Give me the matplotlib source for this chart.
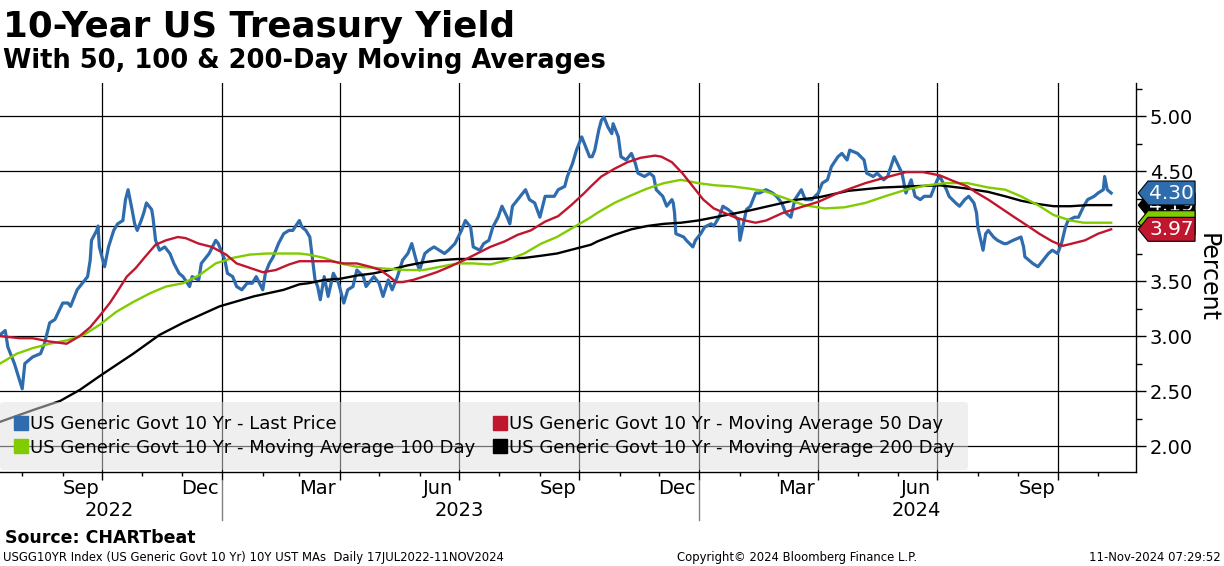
import matplotlib
matplotlib.use("Agg")
import matplotlib.pyplot as plt
import matplotlib.dates as mdates
from matplotlib.patches import Polygon
from matplotlib.lines import Line2D
from matplotlib.ticker import MultipleLocator, FormatStrFormatter, NullFormatter
import pandas as pd

# ---------------- data ----------------
price_dates = [
    "2022-07-15", "2022-07-19", "2022-07-21", "2022-07-26", "2022-08-01", "2022-08-03", "2022-08-09",
    "2022-08-15", "2022-08-18", "2022-08-22", "2022-08-26", "2022-09-01", "2022-09-05", "2022-09-07",
    "2022-09-12", "2022-09-16", "2022-09-20", "2022-09-22", "2022-09-23", "2022-09-27", "2022-09-28",
    "2022-09-29", "2022-10-03", "2022-10-06", "2022-10-10", "2022-10-13", "2022-10-17", "2022-10-19",
    "2022-10-21", "2022-10-24", "2022-10-26", "2022-10-28", "2022-10-31", "2022-11-02", "2022-11-04",
    "2022-11-08", "2022-11-09", "2022-11-11", "2022-11-14", "2022-11-18", "2022-11-22", "2022-11-25",
    "2022-11-29", "2022-12-02", "2022-12-07", "2022-12-09", "2022-12-14", "2022-12-16", "2022-12-22",
    "2022-12-27", "2022-12-29", "2023-01-03", "2023-01-05", "2023-01-09", "2023-01-12", "2023-01-16",
    "2023-01-20", "2023-01-24", "2023-01-27", "2023-02-01", "2023-02-03", "2023-02-06", "2023-02-09",
    "2023-02-13", "2023-02-17", "2023-02-21", "2023-02-24", "2023-03-01", "2023-03-03", "2023-03-06",
    "2023-03-09", "2023-03-13", "2023-03-15", "2023-03-17", "2023-03-20", "2023-03-23", "2023-03-27",
    "2023-03-31", "2023-04-04", "2023-04-07", "2023-04-11", "2023-04-14", "2023-04-19", "2023-04-21",
    "2023-04-27", "2023-05-01", "2023-05-04", "2023-05-08", "2023-05-11", "2023-05-15", "2023-05-19",
    "2023-05-23", "2023-05-26", "2023-05-30", "2023-06-01", "2023-06-05", "2023-06-08", "2023-06-12",
    "2023-06-16", "2023-06-20", "2023-06-23", "2023-06-28", "2023-07-03", "2023-07-06", "2023-07-10",
    "2023-07-12", "2023-07-17", "2023-07-20", "2023-07-24", "2023-07-27", "2023-07-31", "2023-08-03",
    "2023-08-07", "2023-08-09", "2023-08-11", "2023-08-15", "2023-08-21", "2023-08-24", "2023-08-28",
    "2023-09-01", "2023-09-05", "2023-09-08", "2023-09-12", "2023-09-15", "2023-09-20", "2023-09-22",
    "2023-09-26", "2023-09-29", "2023-10-03", "2023-10-05", "2023-10-09", "2023-10-11", "2023-10-13",
    "2023-10-16", "2023-10-18", "2023-10-20", "2023-10-23", "2023-10-26", "2023-10-27", "2023-10-31",
    "2023-11-02", "2023-11-06", "2023-11-10", "2023-11-13", "2023-11-15", "2023-11-20", "2023-11-24",
    "2023-11-27", "2023-11-29", "2023-12-04", "2023-12-07", "2023-12-11", "2023-12-12", "2023-12-13",
    "2023-12-14", "2023-12-20", "2023-12-22", "2023-12-27", "2023-12-29", "2024-01-02", "2024-01-05",
    "2024-01-10", "2024-01-12", "2024-01-16", "2024-01-19", "2024-01-23", "2024-01-26", "2024-01-31",
    "2024-02-01", "2024-02-06", "2024-02-09", "2024-02-13", "2024-02-16", "2024-02-21", "2024-02-26",
    "2024-02-29", "2024-03-04", "2024-03-07", "2024-03-11", "2024-03-14", "2024-03-19", "2024-03-22",
    "2024-03-27", "2024-04-01", "2024-04-04", "2024-04-08", "2024-04-11", "2024-04-16", "2024-04-19",
    "2024-04-23", "2024-04-25", "2024-05-01", "2024-05-06", "2024-05-08", "2024-05-13", "2024-05-16",
    "2024-05-21", "2024-05-24", "2024-05-29", "2024-06-04", "2024-06-07", "2024-06-11", "2024-06-14",
    "2024-06-18", "2024-06-21", "2024-06-26", "2024-07-01", "2024-07-03", "2024-07-08", "2024-07-10",
    "2024-07-15", "2024-07-18", "2024-07-22", "2024-07-25", "2024-07-29", "2024-07-31", "2024-08-01",
    "2024-08-05", "2024-08-07", "2024-08-09", "2024-08-13", "2024-08-16", "2024-08-21", "2024-08-23",
    "2024-08-28", "2024-09-03", "2024-09-05", "2024-09-06", "2024-09-12", "2024-09-16", "2024-09-20",
    "2024-09-24", "2024-09-27", "2024-10-01", "2024-10-04", "2024-10-07", "2024-10-09", "2024-10-14",
    "2024-10-17", "2024-10-21", "2024-10-24", "2024-10-29", "2024-11-01", "2024-11-05", "2024-11-06",
    "2024-11-08", "2024-11-11",
]
price_vals = [
    3.01, 3.05, 2.90, 2.75, 2.52, 2.75, 2.81,
    2.84, 2.93, 3.12, 3.15, 3.30, 3.30, 3.27,
    3.42, 3.48, 3.54, 3.69, 3.87, 3.96, 4.00,
    3.81, 3.63, 3.81, 3.96, 4.02, 4.05, 4.24,
    4.33, 4.15, 4.02, 3.96, 4.05, 4.12, 4.21,
    4.15, 4.08, 3.87, 3.78, 3.81, 3.75, 3.66,
    3.57, 3.54, 3.45, 3.54, 3.51, 3.66, 3.75,
    3.87, 3.84, 3.69, 3.57, 3.54, 3.45, 3.42,
    3.48, 3.48, 3.54, 3.42, 3.57, 3.66, 3.72,
    3.84, 3.93, 3.96, 3.96, 4.05, 3.99, 3.96,
    3.90, 3.51, 3.45, 3.33, 3.54, 3.36, 3.57,
    3.48, 3.30, 3.42, 3.45, 3.60, 3.54, 3.45,
    3.54, 3.48, 3.36, 3.51, 3.42, 3.54, 3.69,
    3.75, 3.84, 3.66, 3.60, 3.75, 3.78, 3.81,
    3.78, 3.75, 3.78, 3.84, 3.96, 4.05, 3.99,
    3.81, 3.78, 3.84, 3.87, 3.99, 4.08, 4.18,
    4.08, 4.02, 4.18, 4.24, 4.33, 4.24, 4.21,
    4.08, 4.27, 4.27, 4.27, 4.33, 4.36, 4.45,
    4.57, 4.69, 4.81, 4.75, 4.63, 4.63, 4.69,
    4.87, 4.96, 4.99, 4.90, 4.84, 4.93, 4.81,
    4.63, 4.60, 4.66, 4.57, 4.48, 4.45, 4.48,
    4.45, 4.33, 4.27, 4.18, 4.24, 4.21, 4.12,
    3.93, 3.90, 3.87, 3.81, 3.87, 3.93, 3.99,
    4.02, 4.00, 4.08, 4.18, 4.15, 4.12, 4.05,
    3.87, 4.15, 4.18, 4.30, 4.30, 4.33, 4.30,
    4.27, 4.21, 4.12, 4.08, 4.24, 4.33, 4.24,
    4.24, 4.30, 4.39, 4.42, 4.54, 4.63, 4.66,
    4.60, 4.69, 4.66, 4.60, 4.48, 4.45, 4.48,
    4.42, 4.45, 4.63, 4.48, 4.30, 4.42, 4.27,
    4.24, 4.27, 4.27, 4.42, 4.45, 4.33, 4.27,
    4.21, 4.18, 4.24, 4.27, 4.21, 4.12, 3.99,
    3.78, 3.93, 3.96, 3.90, 3.87, 3.84, 3.84,
    3.87, 3.90, 3.81, 3.72, 3.66, 3.63, 3.69,
    3.75, 3.78, 3.75, 3.84, 3.99, 4.05, 4.08,
    4.08, 4.18, 4.24, 4.27, 4.30, 4.33, 4.45,
    4.33, 4.30,
]

ma50_dates = [
    "2022-07-15", "2022-07-30", "2022-08-09", "2022-08-22", "2022-09-04", "2022-09-14", "2022-09-22",
    "2022-09-29", "2022-10-07", "2022-10-12", "2022-10-20", "2022-10-27", "2022-11-03", "2022-11-11",
    "2022-11-19", "2022-11-28", "2022-12-04", "2022-12-14", "2022-12-24", "2023-01-04", "2023-01-12",
    "2023-01-22", "2023-02-01", "2023-02-11", "2023-02-21", "2023-03-01", "2023-03-15", "2023-03-25",
    "2023-04-04", "2023-04-14", "2023-04-24", "2023-05-02", "2023-05-09", "2023-05-14", "2023-05-19",
    "2023-05-27", "2023-06-04", "2023-06-14", "2023-06-24", "2023-07-05", "2023-07-15", "2023-07-25",
    "2023-08-05", "2023-08-15", "2023-08-25", "2023-09-05", "2023-09-15", "2023-09-25", "2023-10-05",
    "2023-10-10", "2023-10-18", "2023-10-28", "2023-11-07", "2023-11-17", "2023-11-28", "2023-12-03",
    "2023-12-11", "2023-12-19", "2023-12-27", "2024-01-04", "2024-01-12", "2024-01-20", "2024-01-28",
    "2024-02-05", "2024-02-13", "2024-02-21", "2024-03-05", "2024-03-21", "2024-04-01", "2024-04-16",
    "2024-05-07", "2024-05-22", "2024-06-07", "2024-06-20", "2024-07-03", "2024-07-13", "2024-07-24",
    "2024-07-30", "2024-08-09", "2024-08-19", "2024-08-29", "2024-09-07", "2024-09-17", "2024-09-27",
    "2024-10-05", "2024-10-12", "2024-10-22", "2024-11-01", "2024-11-11",
]
ma50_vals = [
    3.00, 2.98, 2.98, 2.95, 2.93, 3.00, 3.08,
    3.18, 3.30, 3.39, 3.54, 3.62, 3.72, 3.83,
    3.87, 3.90, 3.89, 3.84, 3.81, 3.74, 3.66,
    3.62, 3.58, 3.60, 3.65, 3.68, 3.68, 3.68,
    3.66, 3.66, 3.63, 3.60, 3.54, 3.49, 3.49,
    3.51, 3.54, 3.58, 3.63, 3.69, 3.75, 3.81,
    3.86, 3.92, 3.96, 4.04, 4.09, 4.19, 4.30,
    4.36, 4.45, 4.52, 4.58, 4.62, 4.64, 4.63,
    4.58, 4.48, 4.36, 4.24, 4.16, 4.12, 4.08,
    4.05, 4.03, 4.05, 4.12, 4.18, 4.22, 4.30,
    4.39, 4.44, 4.49, 4.49, 4.46, 4.41, 4.36,
    4.31, 4.24, 4.16, 4.08, 4.01, 3.93, 3.86,
    3.82, 3.84, 3.87, 3.93, 3.97,
]

ma100_dates = [
    "2022-07-15", "2022-07-28", "2022-08-09", "2022-08-22", "2022-09-04", "2022-09-17", "2022-09-29",
    "2022-10-12", "2022-10-25", "2022-11-07", "2022-11-19", "2022-12-02", "2022-12-14", "2022-12-27",
    "2023-01-09", "2023-01-22", "2023-02-04", "2023-02-17", "2023-03-01", "2023-03-08", "2023-03-20",
    "2023-04-01", "2023-04-14", "2023-04-27", "2023-05-09", "2023-05-22", "2023-06-04", "2023-06-17",
    "2023-06-30", "2023-07-12", "2023-07-25", "2023-08-07", "2023-08-20", "2023-09-02", "2023-09-14",
    "2023-09-27", "2023-10-10", "2023-10-15", "2023-10-28", "2023-11-10", "2023-11-22", "2023-12-05",
    "2023-12-18", "2023-12-31", "2024-01-13", "2024-01-26", "2024-02-08", "2024-02-19", "2024-03-05",
    "2024-03-21", "2024-04-06", "2024-04-21", "2024-05-07", "2024-05-22", "2024-06-07", "2024-06-23",
    "2024-07-08", "2024-07-24", "2024-08-09", "2024-08-22", "2024-09-03", "2024-09-16", "2024-09-28",
    "2024-10-11", "2024-10-21", "2024-11-11",
]
ma100_vals = [
    2.75, 2.84, 2.89, 2.93, 2.96, 3.01, 3.10,
    3.22, 3.31, 3.39, 3.45, 3.48, 3.55, 3.66,
    3.71, 3.74, 3.75, 3.75, 3.75, 3.74, 3.71,
    3.66, 3.63, 3.62, 3.61, 3.60, 3.60, 3.63,
    3.66, 3.66, 3.65, 3.69, 3.75, 3.84, 3.90,
    3.99, 4.08, 4.12, 4.21, 4.28, 4.34, 4.39,
    4.42, 4.39, 4.37, 4.36, 4.34, 4.32, 4.26,
    4.19, 4.16, 4.17, 4.21, 4.27, 4.33, 4.37,
    4.39, 4.39, 4.35, 4.33, 4.27, 4.19, 4.10,
    4.05, 4.03, 4.03,
]

ma200_dates = [
    "2022-07-15", "2022-08-10", "2022-08-30", "2022-09-14", "2022-10-01", "2022-10-25", "2022-11-14",
    "2022-12-02", "2022-12-30", "2023-01-25", "2023-02-17", "2023-03-01", "2023-03-08", "2023-03-20",
    "2023-04-01", "2023-04-14", "2023-04-27", "2023-05-09", "2023-05-22", "2023-06-04", "2023-06-17",
    "2023-06-30", "2023-07-25", "2023-08-20", "2023-09-02", "2023-09-14", "2023-09-27", "2023-10-10",
    "2023-10-15", "2023-10-28", "2023-11-10", "2023-11-22", "2023-12-05", "2023-12-18", "2023-12-31",
    "2024-01-13", "2024-01-26", "2024-02-08", "2024-02-19", "2024-03-16", "2024-04-01", "2024-04-24",
    "2024-05-20", "2024-06-09", "2024-07-03", "2024-07-24", "2024-08-09", "2024-08-22", "2024-09-03",
    "2024-09-16", "2024-09-28", "2024-10-11", "2024-10-24", "2024-11-11",
]
ma200_vals = [
    2.22, 2.33, 2.41, 2.51, 2.65, 2.84, 3.01,
    3.12, 3.27, 3.36, 3.42, 3.47, 3.48, 3.51,
    3.52, 3.55, 3.57, 3.60, 3.64, 3.67, 3.69,
    3.70, 3.70, 3.71, 3.73, 3.75, 3.79, 3.83,
    3.86, 3.92, 3.97, 4.00, 4.02, 4.03, 4.05,
    4.08, 4.11, 4.14, 4.17, 4.24, 4.26, 4.32,
    4.35, 4.36, 4.37, 4.34, 4.31, 4.27, 4.23,
    4.20, 4.18, 4.18, 4.19, 4.19,
]

series_labels = [
    "US Generic Govt 10 Yr - Last Price",
    "US Generic Govt 10 Yr - Moving Average 50 Day",
    "US Generic Govt 10 Yr - Moving Average 100 Day",
    "US Generic Govt 10 Yr - Moving Average 200 Day",
]

month_label_dates = ["2022-09-15", "2022-12-15", "2023-03-15", "2023-06-15", "2023-09-15",
                     "2023-12-15", "2024-03-15", "2024-06-15", "2024-09-15"]
month_labels = ["Sep", "Dec", "Mar", "Jun", "Sep", "Dec", "Mar", "Jun", "Sep"]
year_label_dates = ["2022-10-07", "2023-07-01", "2024-06-15"]
year_labels = ["2022", "2023", "2024"]
year_break_dates = ["2023-01-01", "2024-01-01"]

# ---------------- style ----------------
C_PRICE = "#2f6cad"
C_50 = "#c0162e"
C_100 = "#80cc00"
C_200 = "#000000"

fig = plt.figure(figsize=(12.24, 5.66), dpi=100)
W, H = 1224.0, 566.0
ax_left, ax_right, ax_top, ax_bot = 0.0, 1136.0, 83.0, 472.0
ax = fig.add_axes([ax_left / W, 1 - ax_bot / H, (ax_right - ax_left) / W, (ax_bot - ax_top) / H])

pd_price = pd.to_datetime(price_dates)
ax.plot(pd.to_datetime(ma200_dates), ma200_vals, color=C_200, lw=1.7, zorder=3)
ax.plot(pd.to_datetime(ma100_dates), ma100_vals, color=C_100, lw=1.7, zorder=3)
ax.plot(pd.to_datetime(ma50_dates), ma50_vals, color=C_50, lw=1.7, zorder=3)
ax.plot(pd_price, price_vals, color=C_PRICE, lw=2.3, zorder=2)

ax.set_xlim(pd.Timestamp("2022-07-15"), pd.Timestamp("2024-11-30"))
ax.set_ylim(1.764, 5.30)

# grid and ticks
ax.set_axisbelow(True)
ax.xaxis.set_major_locator(mdates.MonthLocator(bymonth=[1, 4, 7, 10]))
ax.xaxis.set_minor_locator(mdates.MonthLocator())
ax.xaxis.set_major_formatter(NullFormatter())
ax.xaxis.set_minor_formatter(NullFormatter())
ax.yaxis.set_major_locator(MultipleLocator(0.5))
ax.yaxis.set_minor_locator(MultipleLocator(0.25))
ax.yaxis.set_major_formatter(FormatStrFormatter("%.2f"))
ax.grid(which="major", color="black", lw=0.9)

for s in ["left", "top"]:
    ax.spines[s].set_visible(False)
for s in ["right", "bottom"]:
    ax.spines[s].set_color("black")
    ax.spines[s].set_linewidth(1.0)

ax.yaxis.tick_right()
ax.tick_params(axis="y", which="major", direction="out", length=7, width=1.0,
               labelsize=14, pad=3, colors="black")
ax.tick_params(axis="y", which="minor", direction="out", length=4, width=1.0)
ax.tick_params(axis="x", which="major", direction="out", length=6, width=1.0)
ax.tick_params(axis="x", which="minor", direction="out", length=3, width=1.0)

xtrans = ax.get_xaxis_transform()
ax_h = ax_bot - ax_top
for d, lab in zip(month_label_dates, month_labels):
    ax.text(pd.Timestamp(d), -(489 - ax_bot) / ax_h, lab, transform=xtrans,
            ha="center", va="center", fontsize=14)
for d, lab in zip(year_label_dates, year_labels):
    ax.text(pd.Timestamp(d), -(511 - ax_bot) / ax_h, lab, transform=xtrans,
            ha="center", va="center", fontsize=14)
for d in year_break_dates:
    ax.plot([pd.Timestamp(d)] * 2, [-(480 - ax_bot) / ax_h, -(520 - ax_bot) / ax_h],
            transform=xtrans, clip_on=False, color="#808080", lw=1.0)

fig.text(1208 / W, 1 - 278 / H, "Percent", rotation=270, ha="center", va="center", fontsize=17)

# legend
handles = [Line2D([], [], marker="s", ls="none", color=c, markersize=10)
           for c in [C_PRICE, C_100, C_50, C_200]]
labels = [series_labels[0], series_labels[2], series_labels[1], series_labels[3]]
leg = ax.legend(handles, labels, ncol=2, loc="lower left", bbox_to_anchor=(0.0, 0.005),
                borderaxespad=0, fontsize=13, handletextpad=0.1, columnspacing=1.0,
                borderpad=0.75, labelspacing=0.3, handlelength=0.8, frameon=True)
fr = leg.get_frame()
fr.set_facecolor("#e0e0e0")
fr.set_alpha(0.5)
fr.set_edgecolor("none")

# right-hand value tags (drawn in stacking order, text just above its own box)
ytrans = ax.get_yaxis_transform()
def tag(v, fc, z, show_text=True, tc="white"):
    h = 0.109
    poly = Polygon([(1.002, v), (1.0106, v + h), (1.052, v + h), (1.052, v - h), (1.0106, v - h)],
                   closed=True, transform=ytrans, clip_on=False, facecolor=fc,
                   edgecolor="black", lw=0.8, zorder=z)
    ax.add_patch(poly)
    if show_text:
        ax.text(1.0315, v, f"{v:.2f}", transform=ytrans, ha="center", va="center",
                color=tc, fontsize=14.5, clip_on=False, zorder=z + 0.05)

tag(ma200_vals[-1], C_200, 6.0)
tag(ma100_vals[-1], C_100, 6.1, show_text=False)
tag(price_vals[-1], C_PRICE, 6.2)
tag(ma50_vals[-1], C_50, 6.3)

# titles and footer
fig.text(3 / W, 1 - 37 / H, "10-Year US Treasury Yield", fontsize=25.7, fontweight="bold",
         ha="left", va="baseline")
fig.text(3 / W, 1 - 68 / H, "With 50, 100 & 200-Day Moving Averages", fontsize=18.5,
         fontweight="bold", ha="left", va="baseline")
fig.text(5 / W, 1 - 543 / H, "Source: CHARTbeat", fontsize=12.5, fontweight="bold",
         ha="left", va="baseline")
fig.text(3 / W, 1 - 561 / H,
         "USGG10YR Index (US Generic Govt 10 Yr) 10Y UST MAs  Daily 17JUL2022-11NOV2024",
         fontsize=8.4, ha="left", va="baseline")
fig.text(797 / W, 1 - 561 / H, "Copyright\u00a9 2024 Bloomberg Finance L.P.", fontsize=8.4,
         ha="center", va="baseline")
fig.text(1221 / W, 1 - 561 / H, "11-Nov-2024 07:29:52", fontsize=8.4, ha="right", va="baseline")

fig.savefig("out.png", dpi=100)
